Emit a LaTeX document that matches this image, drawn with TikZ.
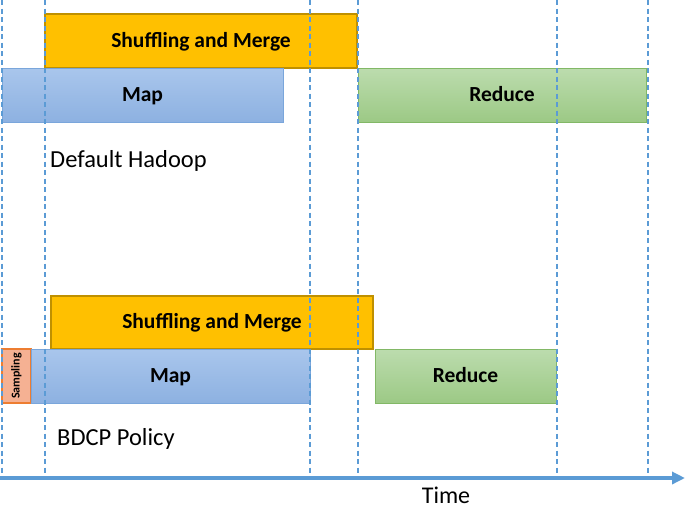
\documentclass[tikz,border=0pt]{standalone}
\usepackage{fontspec}
\setmainfont{Carlito}
\usetikzlibrary{arrows.meta}
\definecolor{dashblue}{HTML}{5B9BD5}
\definecolor{orfill}{HTML}{FFC000}
\definecolor{ordraw}{HTML}{BF9000}
\definecolor{bltop}{HTML}{A9C6EC}
\definecolor{blbot}{HTML}{8DB1E1}
\definecolor{bldraw}{HTML}{7AA6DB}
\definecolor{grtop}{HTML}{BCDCAE}
\definecolor{grbot}{HTML}{9CC985}
\definecolor{grdraw}{HTML}{82B866}
\definecolor{safill}{HTML}{F5B193}
\definecolor{sadraw}{HTML}{ED7D31}
\tikzset{
  phase/.style={anchor=north west, inner sep=0pt, outer sep=0pt, line width=1pt,
    text height=12pt, text depth=0pt,
    font=\fontsize{21.5}{25}\selectfont\bfseries, text=black},
  shufbox/.style={phase, fill=orfill, draw=ordraw, line width=1.3pt},
  mapbox/.style={phase, top color=bltop, bottom color=blbot, draw=bldraw},
  redbox/.style={phase, top color=grtop, bottom color=grbot, draw=grdraw},
  sampbox/.style={phase, fill=safill, draw=sadraw, line width=1.2pt},
  guide/.style={draw=dashblue, line width=1.3pt, dash pattern=on 5pt off 3.5pt},
  axis/.style={draw=dashblue, line width=4.5pt, -{Triangle[length=13pt,width=12pt]}},
  caption/.style={anchor=base west, inner sep=0pt, font=\fontsize{24.5}{28}\selectfont},
}
\begin{document}
\begin{tikzpicture}[x=1pt,y=-1pt]
\useasboundingbox (0,0) rectangle (685,507);
% top: default hadoop
\node[shufbox, minimum width=312pt, minimum height=54pt] (s1) at (45,14) {Shuffling and Merge};
\node[mapbox, minimum width=281pt, minimum height=54pt] (m1) at (2,68) {Map};
\node[redbox, minimum width=288pt, minimum height=54pt] (r1) at (358,68) {Reduce};
\node[caption] (c1) at (50,167) {Default Hadoop};
% bottom: BDCP
\node[shufbox, minimum width=322pt, minimum height=53pt] (s2) at (51,296) {Shuffling and Merge};
\node[sampbox, minimum width=29pt, minimum height=54pt] (sa) at (2,349) {};
\node[rotate=90, inner sep=0pt, font=\fontsize{12}{14}\selectfont\bfseries] (sat) at (sa.center) {Sampling};
\node[mapbox, minimum width=279pt, minimum height=54pt] (m2) at (31,349) {Map};
\node[redbox, minimum width=181pt, minimum height=54pt] (r2) at (375,349) {Reduce};
\node[caption] (c2) at (57,445) {BDCP Policy};
% guides
\foreach \gx/\gn in {2/ga,45/gb,310/gc,358/gd,557/ge,648/gf}{
  \coordinate (\gn top) at (\gx,0);
  \coordinate (\gn bot) at (\gx,478);
  \draw[guide] (\gn top) -- (\gn bot);
}
% axis
\coordinate (t0) at (0,478);
\coordinate (t1) at (685,478);
\draw[axis] (t0) -- (t1);
\node[anchor=base, inner sep=0pt, text depth=0pt, font=\fontsize{24}{28}\selectfont] (time) at (446,503) {Time};
\end{tikzpicture}
\end{document}
